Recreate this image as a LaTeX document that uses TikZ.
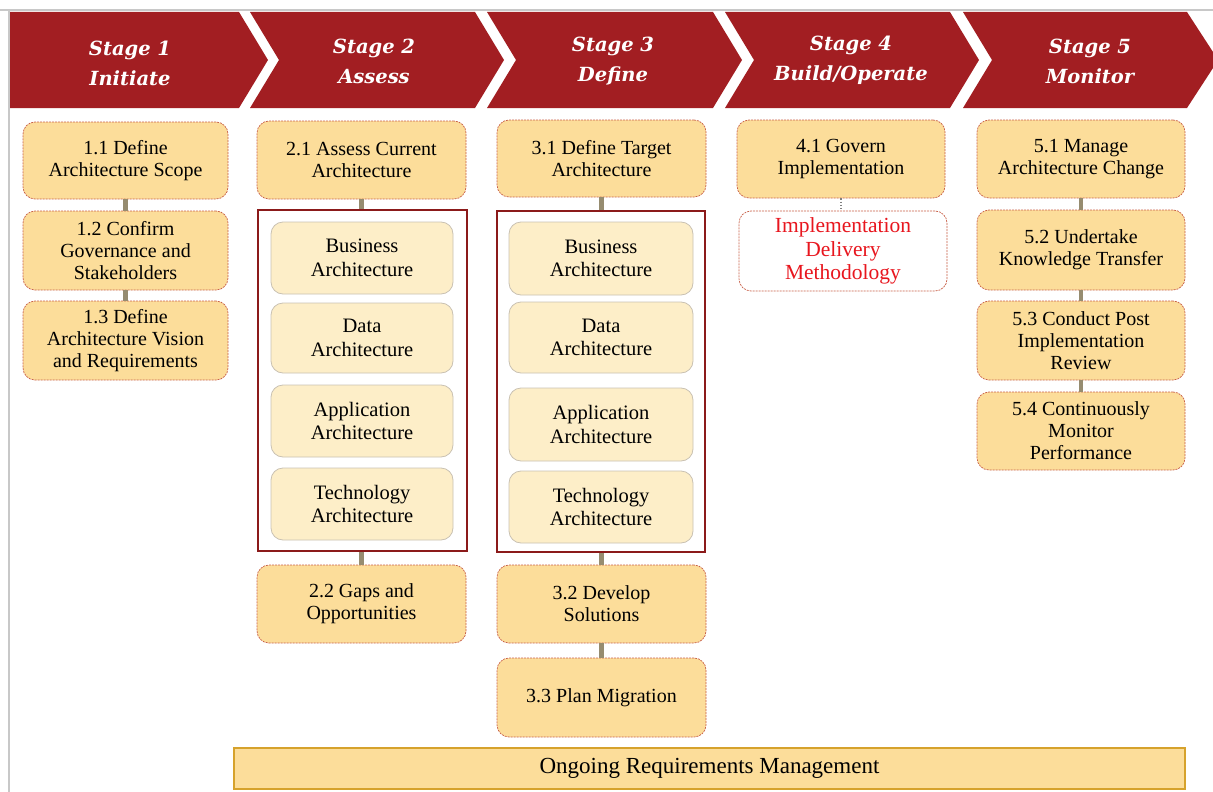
\documentclass[tikz,border=0pt]{standalone}
\usepackage{fontspec}
\setmainfont{Liberation Serif}
\newfontfamily\stagefont{DejaVu Serif}
\definecolor{stagered}{HTML}{A21E22}
\definecolor{boxfill}{HTML}{FCDD9A}
\definecolor{boxline}{HTML}{C86048}
\definecolor{innerfill}{HTML}{FDEEC8}
\definecolor{innerline}{HTML}{C9C1B2}
\definecolor{framecol}{HTML}{8B1A1A}
\definecolor{linkcol}{HTML}{968C70}
\definecolor{implred}{HTML}{E8161E}
\definecolor{barline}{HTML}{D6A22C}
\definecolor{edgegray}{HTML}{C8C8C8}
\begin{document}
\begin{tikzpicture}[x=1pt,y=-1pt,
  stagetext/.style={text=white,align=center,font=\stagefont\fontsize{19.5}{30}\selectfont\bfseries\itshape},
  box/.style={draw=boxline,dash pattern=on 2pt off 1pt,line width=0.7pt,fill=boxfill,rounded corners=12pt,
    align=center,inner sep=0pt,font=\fontsize{20}{22}\selectfont},
  innerbox/.style={draw=innerline,line width=0.8pt,fill=innerfill,rounded corners=12pt,
    align=center,inner sep=0pt,font=\fontsize{20.5}{23.5}\selectfont},
  implbox/.style={draw=boxline,dash pattern=on 2pt off 1pt,line width=0.7pt,fill=white,rounded corners=12pt,
    align=center,inner sep=0pt,text=implred,font=\fontsize{21.5}{23.5}\selectfont},
  framebox/.style={draw=framecol,line width=1.8pt,inner sep=0pt},
  barbox/.style={draw=barline,line width=1.6pt,fill=boxfill,inner sep=0pt,font=\fontsize{23}{25}\selectfont},
  link/.style={draw=linkcol,line width=4.5pt},
  dotlink/.style={draw=gray,line width=1.2pt,dotted}
]
\useasboundingbox (0,0) rectangle (1213,792);
% page edges
\draw[edgegray,line width=1.2pt] (0,10) -- (1213,10);
\draw[edgegray,line width=1.2pt] (9,10) -- (9,792);
% chevrons
\fill[stagered] (10,12) -- (239,12) -- (268,60) -- (239,108) -- (10,108) -- cycle;
\fill[stagered] (250,12) -- (475,12) -- (504,60) -- (475,108) -- (250,108) -- (279,60) -- cycle;
\fill[stagered] (487,12) -- (713,12) -- (742,60) -- (713,108) -- (487,108) -- (516,60) -- cycle;
\fill[stagered] (725,12) -- (950,12) -- (979,60) -- (950,108) -- (725,108) -- (754,60) -- cycle;
\fill[stagered] (963,12) -- (1187,12) -- (1213,52) -- (1213,68) -- (1187,108) -- (963,108) -- (992,60) -- cycle;
\node[stagetext] (s1) at (130,63) {Stage 1\\Initiate};
\node[stagetext] (s2) at (374,61) {Stage 2\\Assess};
\node[stagetext] (s3) at (613,61) {Stage 3\\Define};
\node[stagetext] (s4) at (851,60) {Stage 4\\Build/Operate};
\node[stagetext] (s5) at (1090,61) {Stage 5\\Monitor};
% column 1
\node[box,minimum width=205pt,minimum height=77pt] (b11) at (125.5,160.5) {1.1 Define\\Architecture Scope};
\node[box,minimum width=205pt,minimum height=79pt] (b12) at (125.5,250.5) {1.2 Confirm\\Governance and\\Stakeholders};
\node[box,minimum width=205pt,minimum height=79pt] (b13) at (125.5,340.5) {1.3 Define\\Architecture Vision\\and Requirements};
% column 2
\node[box,minimum width=209pt,minimum height=78pt] (b21) at (361.5,160) {2.1 Assess Current\\Architecture};
\node[framebox,minimum width=209pt,minimum height=341pt] (f2) at (362.5,380.5) {};
\node[innerbox,minimum width=182pt,minimum height=72pt] (ba2) at (362,258) {Business\\Architecture};
\node[innerbox,minimum width=182pt,minimum height=70pt] (da2) at (362,338) {Data\\Architecture};
\node[innerbox,minimum width=182pt,minimum height=72pt] (aa2) at (362,421) {Application\\Architecture};
\node[innerbox,minimum width=182pt,minimum height=72pt] (ta2) at (362,504) {Technology\\Architecture};
\node[box,minimum width=209pt,minimum height=78pt] (b22) at (361.5,604) {2.2 Gaps and\\Opportunities};
% column 3
\node[box,minimum width=209pt,minimum height=77pt] (b31) at (601.5,158.5) {3.1 Define Target\\Architecture};
\node[framebox,minimum width=208pt,minimum height=341pt] (f3) at (601,381.5) {};
\node[innerbox,minimum width=184pt,minimum height=73pt] (ba3) at (601,258.5) {Business\\Architecture};
\node[innerbox,minimum width=184pt,minimum height=71pt] (da3) at (601,337.5) {Data\\Architecture};
\node[innerbox,minimum width=184pt,minimum height=73pt] (aa3) at (601,424.5) {Application\\Architecture};
\node[innerbox,minimum width=184pt,minimum height=72pt] (ta3) at (601,507) {Technology\\Architecture};
\node[box,minimum width=209pt,minimum height=78pt] (b32) at (601.5,604) {3.2 Develop\\Solutions};
\node[box,minimum width=209pt,minimum height=79pt] (b33) at (601.5,697.5) {3.3 Plan Migration};
% column 4
\node[box,minimum width=208pt,minimum height=78pt] (b41) at (841,159) {4.1 Govern\\Implementation};
\node[implbox,minimum width=208pt,minimum height=80pt] (impl) at (843,251) {Implementation\\Delivery\\Methodology};
% column 5
\node[box,minimum width=208pt,minimum height=78pt] (b51) at (1081,159) {5.1 Manage\\Architecture Change};
\node[box,minimum width=208pt,minimum height=80pt] (b52) at (1081,250) {5.2 Undertake\\Knowledge Transfer};
\node[box,minimum width=208pt,minimum height=79pt] (b53) at (1081,340.5) {5.3 Conduct Post\\Implementation\\Review};
\node[box,minimum width=208pt,minimum height=78pt] (b54) at (1081,431) {5.4 Continuously\\Monitor\\Performance};
% bottom bar
\node[barbox,minimum width=951pt,minimum height=41pt] (bar) at (709.5,768.5) {Ongoing Requirements Management};
% connectors
\draw[link] (b11.south) -- (b12.north);
\draw[link] (b12.south) -- (b13.north);
\draw[link] (b21.south) -- (b21.south |- f2.north);
\draw[link] (b22.north |- f2.south) -- (b22.north);
\draw[link] (b31.south) -- (b31.south |- f3.north);
\draw[link] (b32.north |- f3.south) -- (b32.north);
\draw[link] (b32.south) -- (b33.north);
\draw[dotlink] (b41.south) -- (b41.south |- impl.north);
\draw[link] (b51.south) -- (b52.north);
\draw[link] (b52.south) -- (b53.north);
\draw[link] (b53.south) -- (b54.north);
\end{tikzpicture}
\end{document}
